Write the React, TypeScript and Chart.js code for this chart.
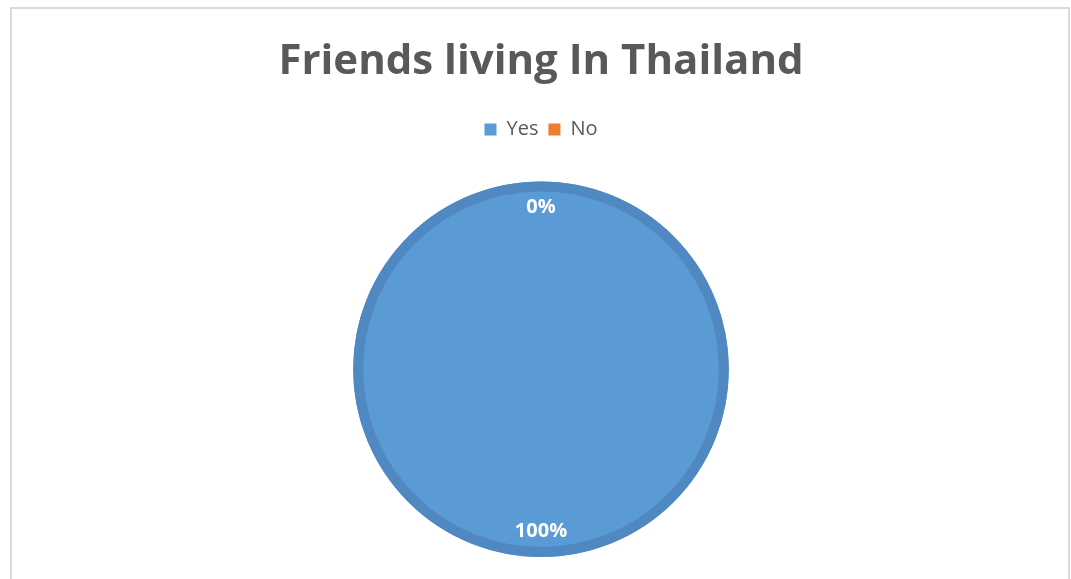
import React, { useEffect, useRef } from "react";
import { Chart, registerables } from "chart.js";

Chart.register(...registerables);

const categories = ["Yes", "No"];
const values = [100, 0];
const labelsText = ["100%", "0%"];
const colors = ["#5B9BD5", "#ED7D31"];
const ringColor = "#5088C1";
const chartTitle = "Friends living In Thailand";

const frame = {
  id: "frame",
  beforeDraw(chart: any) {
    const ctx = chart.ctx;
    ctx.save();
    ctx.fillStyle = "#ffffff";
    ctx.fillRect(0, 0, chart.width, chart.height);
    ctx.strokeStyle = "#D9D9D9";
    ctx.lineWidth = 2;
    ctx.strokeRect(11, 8, 1058, 600);
    ctx.restore();
  },
};

const legendGap = {
  id: "legendGap",
  beforeLayout(chart: any) {
    const lg = chart.legend;
    if (lg && !lg._gapPatched) {
      const orig = lg.fit;
      lg.fit = function () {
        orig.call(this);
        this.height += 32;
      };
      lg._gapPatched = true;
    }
  },
};

const pieLabels = {
  id: "pieLabels",
  afterDatasetsDraw(chart: any) {
    const ctx = chart.ctx;
    const meta = chart.getDatasetMeta(0);
    const first = meta.data[0].getProps(["x", "y", "outerRadius"], true);
    ctx.save();
    ctx.strokeStyle = ringColor;
    ctx.lineWidth = 10;
    ctx.beginPath();
    ctx.arc(first.x, first.y, first.outerRadius - 5, 0, Math.PI * 2);
    ctx.stroke();
    ctx.fillStyle = "#ffffff";
    ctx.font = "bold 20px 'Open Sans', sans-serif";
    ctx.textAlign = "center";
    ctx.textBaseline = "middle";
    meta.data.forEach((arc: any, i: number) => {
      const p = arc.getProps(["x", "y", "startAngle", "endAngle", "outerRadius"], true);
      const mid = (p.startAngle + p.endAngle) / 2;
      const r = p.outerRadius * 0.862;
      ctx.fillText(labelsText[i], p.x + Math.cos(mid) * r, p.y + Math.sin(mid) * r);
    });
    ctx.restore();
  },
};

export default function App() {
  const ref = useRef<HTMLCanvasElement>(null);
  useEffect(() => {
    if (!ref.current) return;
    const chart = new Chart(ref.current, {
      type: "pie",
      data: {
        labels: categories,
        datasets: [
          {
            data: values,
            backgroundColor: colors,
            borderWidth: 0,
          },
        ],
      },
      options: {
        animation: false,
        responsive: false,
        layout: { padding: { left: 11, right: 0, top: 37, bottom: 22 } },
        plugins: {
          title: {
            display: true,
            text: chartTitle,
            color: "#595959",
            font: { family: "'Open Sans', sans-serif", size: 42, weight: "bold" },
            padding: { top: 0, bottom: 22 },
          },
          legend: {
            display: true,
            position: "top",
            labels: {
              color: "#595959",
              font: { family: "'Open Sans', sans-serif", size: 20 },
              boxWidth: 12,
              boxHeight: 12,
              padding: 10,
              generateLabels: () =>
                categories.map((t, i) => ({
                  text: t,
                  fillStyle: colors[i],
                  strokeStyle: colors[i],
                  lineWidth: 0,
                  hidden: false,
                  index: i,
                  fontColor: "#595959",
                })),
            },
          },
          tooltip: { enabled: false },
        },
      },
      plugins: [frame, legendGap, pieLabels],
    });
    return () => chart.destroy();
  }, []);
  return (
    <div style={{ position: "fixed", left: 0, top: 0, width: 1071, height: 579 }}>
      <canvas ref={ref} width={1071} height={579} />
    </div>
  );
}
